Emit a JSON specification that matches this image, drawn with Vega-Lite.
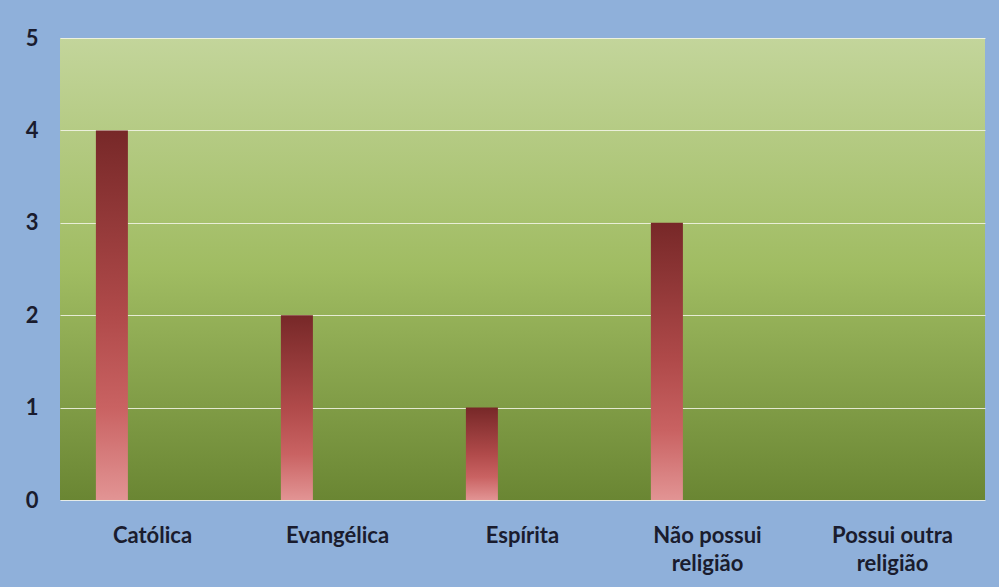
{
  "$schema": "https://vega.github.io/schema/vega-lite/v6.json",
  "autosize": {"type": "none"},
  "width": 925,
  "height": 462,
  "padding": {"left": 60, "top": 38, "right": 14, "bottom": 87},
  "background": "#8fb0da",
  "data": {
    "values": [
      {"religiao": "Católica", "serie": "a", "valor": 4},
      {"religiao": "Evangélica", "serie": "a", "valor": 2},
      {"religiao": "Espírita", "serie": "a", "valor": 1},
      {"religiao": "Não possui religião", "serie": "a", "valor": 3},
      {"religiao": "Possui outra religião", "serie": "a", "valor": 0}
    ]
  },
  "mark": {
    "type": "bar",
    "color": {
      "gradient": "linear",
      "x1": 0, "y1": 0, "x2": 0, "y2": 1,
      "stops": [
        {"offset": 0, "color": "#772828"},
        {"offset": 0.5, "color": "#b04a4a"},
        {"offset": 0.75, "color": "#c96262"},
        {"offset": 1, "color": "#e29494"}
      ]
    }
  },
  "encoding": {
    "x": {
      "field": "religiao",
      "type": "nominal",
      "sort": null,
      "scale": {"paddingInner": 0, "paddingOuter": 0},
      "axis": {
        "title": null,
        "labelAngle": 0,
        "ticks": false,
        "domain": false,
        "labelPadding": 35,
        "labelFont": "Lato",
        "labelFontWeight": "bold",
        "labelFontSize": 22,
        "labelColor": "#1a1c2e",
        "labelLineHeight": 28,
        "labelBaseline": "middle",
        "labelOverlap": false,
        "labelExpr": "datum.label == 'Não possui religião' ? ['Não possui', 'religião'] : datum.label == 'Possui outra religião' ? ['Possui outra', 'religião'] : datum.label"
      }
    },
    "xOffset": {
      "field": "serie",
      "type": "nominal",
      "scale": {"domain": ["a", "b", "c", "d"], "paddingInner": 0, "paddingOuter": 0.89, "align": 0.63}
    },
    "y": {
      "field": "valor",
      "type": "quantitative",
      "scale": {"domain": [0, 5]},
      "axis": {
        "title": null,
        "values": [0, 1, 2, 3, 4, 5],
        "ticks": false,
        "domain": false,
        "labelOverlap": false,
        "labelPadding": 22,
        "labelFont": "Lato",
        "labelFontWeight": "bold",
        "labelFontSize": 22,
        "labelColor": "#1a1c2e",
        "gridColor": "#f4f6ea",
        "gridOpacity": 0.85,
        "gridWidth": 1.2
      }
    }
  },
  "config": {
    "view": {
      "stroke": null,
      "fill": {
        "gradient": "linear",
        "x1": 0, "y1": 0, "x2": 0, "y2": 1,
        "stops": [
          {"offset": 0, "color": "#c3d59b"},
          {"offset": 0.5, "color": "#a0bc62"},
          {"offset": 1, "color": "#6a8633"}
        ]
      }
    }
  }
}
